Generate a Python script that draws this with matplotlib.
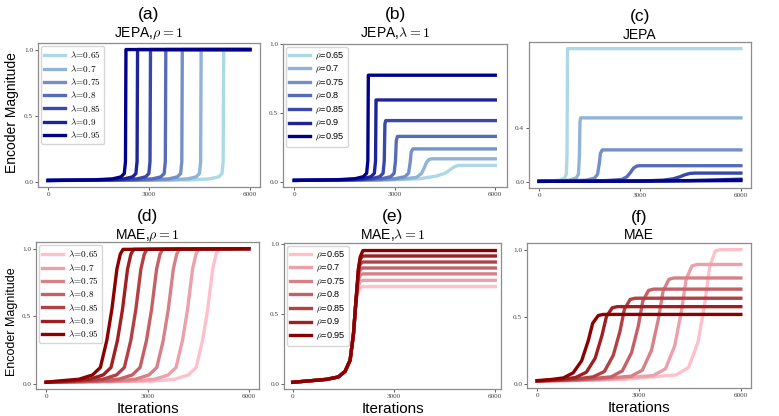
import matplotlib as mpl
mpl.use('Agg')

import numpy as np
import matplotlib.pyplot as plt
from matplotlib import font_manager
from matplotlib.colors import to_rgb


def pick_font(*names):
    for n in names:
        try:
            font_manager.findfont(font_manager.FontProperties(family=n), fallback_to_default=False)
            return n
        except ValueError:
            pass
    return 'DejaVu Sans'


SANS = pick_font('Liberation Sans Narrow', 'Liberation Sans', 'DejaVu Sans')
SERIF = pick_font('Liberation Serif', 'DejaVu Serif')
plt.rcParams['mathtext.fontset'] = 'cm'
plt.rcParams['font.family'] = [SANS, 'DejaVu Sans']

# legend values (same for every panel), lightest colour first
params = ['0.65', '0.7', '0.75', '0.8', '0.85', '0.9', '0.95']

# ---- (a) JEPA, rho = 1 ----
a_x = [
    [0, 4200, 4800, 5070, 5170, 5205, 5220, 6000],
    [0, 3550, 4150, 4400, 4500, 4535, 4550, 6000],
    [0, 2990, 3590, 3840, 3940, 3975, 3990, 6000],
    [0, 2500, 3100, 3350, 3450, 3485, 3500, 6000],
    [0, 2045, 2645, 2895, 2995, 3030, 3045, 6000],
    [0, 1660, 2260, 2510, 2610, 2645, 2660, 6000],
    [0, 1315, 1915, 2165, 2265, 2300, 2315, 6000],
]
a_y = [[0.008, 0.012, 0.02, 0.035, 0.06, 0.15, 1.0, 1.0]] * 7

# ---- (b) JEPA, lambda = 1 ----
b_x = [
    [0, 2800, 3750, 4250, 4500, 4650, 4770, 4850, 4920, 6000],
    [0, 2600, 3300, 3650, 3800, 3880, 3950, 4020, 4100, 6000],
    [0, 2400, 3000, 3300, 3410, 3460, 3490, 3540, 6000],
    [0, 2000, 2600, 2880, 2980, 3020, 3045, 3080, 6000],
    [0, 1700, 2300, 2550, 2650, 2685, 2705, 2730, 6000],
    [0, 1440, 2040, 2290, 2390, 2425, 2440, 6000],
    [0, 1210, 1810, 2060, 2160, 2195, 2210, 6000],
]
b_y = [
    [0.008, 0.011, 0.02, 0.04, 0.06, 0.085, 0.105, 0.114, 0.117, 0.117],
    [0.008, 0.012, 0.02, 0.03, 0.06, 0.10, 0.14, 0.16, 0.165, 0.165],
    [0.008, 0.012, 0.02, 0.035, 0.06, 0.14, 0.215, 0.237, 0.237],
    [0.008, 0.012, 0.02, 0.035, 0.06, 0.15, 0.30, 0.328, 0.328],
    [0.008, 0.012, 0.02, 0.035, 0.06, 0.15, 0.42, 0.443, 0.443],
    [0.008, 0.012, 0.02, 0.035, 0.06, 0.15, 0.593, 0.593],
    [0.008, 0.012, 0.02, 0.035, 0.06, 0.15, 0.773, 0.773],
]

# ---- (c) JEPA ----
c_x = [
    [0, 300, 600, 760, 810, 830, 845, 6000],
    [0, 500, 900, 1100, 1170, 1200, 1215, 1235, 6000],
    [0, 800, 1400, 1650, 1740, 1790, 1825, 1880, 6000],
    [0, 1200, 2000, 2460, 2610, 2710, 2810, 2905, 3000, 6000],
    [0, 2000, 3200, 3695, 3990, 4185, 4335, 4480, 4630, 6000],
    [0, 3000, 4500, 5300, 6000],
    [0, 3000, 6000],
]
c_y = [
    [0.006, 0.008, 0.015, 0.03, 0.06, 0.2, 0.993, 0.993],
    [0.006, 0.008, 0.015, 0.03, 0.06, 0.2, 0.45, 0.478, 0.478],
    [0.006, 0.008, 0.015, 0.03, 0.06, 0.14, 0.215, 0.24, 0.24],
    [0.006, 0.007, 0.012, 0.02, 0.04, 0.07, 0.105, 0.12, 0.1225, 0.1225],
    [0.006, 0.007, 0.01, 0.015, 0.025, 0.04, 0.055, 0.065, 0.0675, 0.0675],
    [0.006, 0.008, 0.012, 0.017, 0.022],
    [0.006, 0.008, 0.012],
]

# ---- (d) MAE, rho = 1 ----
d_x = [
    [0, 3110, 3810, 4210, 4440, 4630, 4780, 4930, 5030, 5110, 6000],
    [0, 2515, 3215, 3615, 3845, 4035, 4185, 4335, 4435, 4515, 6000],
    [0, 1945, 2645, 3045, 3275, 3465, 3615, 3765, 3865, 3945, 6000],
    [0, 1450, 2150, 2550, 2780, 2970, 3120, 3270, 3370, 3450, 6000],
    [0, 985, 1685, 2085, 2315, 2505, 2655, 2805, 2905, 2985, 6000],
    [0, 590, 1290, 1690, 1920, 2110, 2260, 2410, 2510, 2590, 6000],
    [0, 275, 975, 1375, 1605, 1795, 1945, 2095, 2195, 2275, 6000],
]
d_y = [[0.01, 0.018, 0.033, 0.065, 0.12, 0.32, 0.55, 0.85, 0.96, 0.995, 1.0]] * 7

# ---- (e) MAE, lambda = 1 ----
e_x = [[0, 1000, 1350, 1550, 1700, 1800, 1875, 1945, 2000, 2080, 6000]] * 7
e_y = [
    [0.012, 0.033, 0.05, 0.09, 0.17, 0.36, 0.6, 0.66, 0.69, 0.697, 0.697],
    [0.012, 0.033, 0.05, 0.09, 0.17, 0.36, 0.6, 0.70, 0.735, 0.742, 0.742],
    [0.012, 0.033, 0.05, 0.09, 0.17, 0.36, 0.6, 0.74, 0.78, 0.788, 0.788],
    [0.012, 0.033, 0.05, 0.09, 0.17, 0.36, 0.6, 0.78, 0.82, 0.83, 0.83],
    [0.012, 0.033, 0.05, 0.09, 0.17, 0.36, 0.6, 0.80, 0.86, 0.873, 0.873],
    [0.012, 0.033, 0.05, 0.09, 0.17, 0.36, 0.6, 0.82, 0.895, 0.916, 0.916],
    [0.012, 0.033, 0.05, 0.09, 0.17, 0.36, 0.6, 0.82, 0.91, 0.955, 0.955],
]

# ---- (f) MAE ----
f_x = [
    [0, 2500, 4100, 4460, 4740, 4940, 5080, 5250, 5400, 6000],
    [0, 2000, 3420, 3780, 4050, 4250, 4390, 4560, 4710, 6000],
    [0, 1600, 2770, 3100, 3370, 3570, 3710, 3880, 4030, 6000],
    [0, 1300, 2180, 2510, 2780, 2980, 3110, 3280, 3430, 6000],
    [0, 1000, 1650, 1980, 2240, 2440, 2570, 2740, 2890, 6000],
    [0, 700, 1130, 1450, 1710, 1910, 2040, 2210, 2360, 6000],
    [0, 400, 770, 1060, 1310, 1505, 1635, 1800, 1950, 6000],
]
f_y = [
    [0.016, 0.03, 0.065, 0.12, 0.31, 0.6, 0.87, 0.99, 1.0, 1.0],
    [0.017, 0.03, 0.06, 0.11, 0.28, 0.54, 0.78, 0.878, 0.889, 0.889],
    [0.018, 0.03, 0.055, 0.10, 0.25, 0.48, 0.69, 0.778, 0.788, 0.788],
    [0.019, 0.03, 0.05, 0.095, 0.23, 0.43, 0.615, 0.695, 0.705, 0.705],
    [0.02, 0.03, 0.05, 0.09, 0.21, 0.39, 0.555, 0.628, 0.637, 0.637],
    [0.02, 0.03, 0.045, 0.085, 0.19, 0.36, 0.50, 0.565, 0.574, 0.574],
    [0.022, 0.03, 0.042, 0.08, 0.17, 0.32, 0.45, 0.508, 0.516, 0.516],
]


def ramp(c0, c1, n=7):
    c0, c1 = np.array(to_rgb(c0)), np.array(to_rgb(c1))
    return [tuple(c0 + (c1 - c0) * t) for t in np.linspace(0, 1, n)]


blues = ramp('lightblue', 'darkblue')
reds = ramp('pink', 'darkred')

W, H = 779, 416
fig = plt.figure(figsize=(W / 100, H / 100), dpi=100)


def add_ax(x0, y0, x1, y1):
    return fig.add_axes([x0 / W, 1 - y1 / H, (x1 - x0) / W, (y1 - y0) / H])


panels = [
    # box (px), xs, ys, colours, letter, subtitle, legend symbol, yticks, ylim, xlim, offsets
    ((38, 43, 260, 187), a_x, a_y, blues, '(a)', r'JEPA,$\rho = 1$', 'lam', [0, 0.5, 1.0], None, None, (6, 24)),
    ((283, 44, 507, 187), b_x, b_y, blues, '(b)', r'JEPA,$\lambda = 1$', 'rho', [0, 0.5, 1.0], (-0.04, 1.0), (-337, 6349), (7, 25)),
    ((529, 42, 751, 188), c_x, c_y, blues, '(c)', 'JEPA', None, [0, 0.4], None, None, (3, 21)),
    ((36, 242, 259, 389), d_x, d_y, reds, '(d)', r'MAE,$\rho = 1$', 'lam', [0, 0.5, 1.0], None, None, (3, 21)),
    ((284, 243, 501, 389), e_x, e_y, reds, '(e)', r'MAE,$\lambda = 1$', 'rho', [0, 0.5, 1.0], (-0.036, 1.009), (-258, 6169), (4, 22)),
    ((527, 243, 751, 388), f_x, f_y, reds, '(f)', 'MAE', None, [0, 0.5, 1.0], None, None, (4, 21)),
]

for box, xs, ys, cols, letter, sub, sym, yt, ylim, xlim, offs in panels:
    ax = add_ax(*box)
    for i in range(7):
        if sym == 'lam':
            lab = r'$\lambda\!=\!' + params[i] + '$'
        elif sym == 'rho':
            lab = r'$\rho$=' + params[i]
        else:
            lab = None
        ax.plot(xs[i], ys[i], color=cols[i], lw=2.4, label=lab, solid_joinstyle='round')
    if ylim:
        ax.set_ylim(*ylim)
    if xlim:
        ax.set_xlim(*xlim)
    ax.set_xticks([0, 3000, 6000])
    ax.set_yticks(yt)
    ax.set_yticklabels(['%.1f' % v for v in yt])
    ax.tick_params(labelsize=5.2, length=2, width=0.6, pad=1.5, colors='#444444')
    for t in ax.get_xticklabels() + ax.get_yticklabels():
        t.set_family(SERIF)
    for s in ax.spines.values():
        s.set_color('#8c8c8c')
        s.set_linewidth(0.9)
    if sym:
        ax.legend(loc='upper left', fontsize=6.6, labelspacing=0.25, handlelength=2.2,
                  handletextpad=0.6, borderpad=0.4, borderaxespad=0.3)
    ax.annotate(sub, xy=(0.5, 1), xycoords='axes fraction', xytext=(0, offs[0] * 0.72),
                textcoords='offset points', ha='center', va='baseline', fontsize=10)
    ax.annotate(letter, xy=(0.5, 1), xycoords='axes fraction', xytext=(0, offs[1] * 0.72),
                textcoords='offset points', ha='center', va='baseline', fontsize=12.5)
    if box[1] > 200:
        ax.set_xlabel('Iterations', fontsize=11, labelpad=2)

fig.text(12 / W, 1 - 113 / H, 'Encoder Magnitude', rotation=90, ha='center', va='center', fontsize=10)
fig.text(12 / W, 1 - 322 / H, 'Encoder Magnitude', rotation=90, ha='center', va='center', fontsize=9)

fig.savefig('out.png', dpi=100)
